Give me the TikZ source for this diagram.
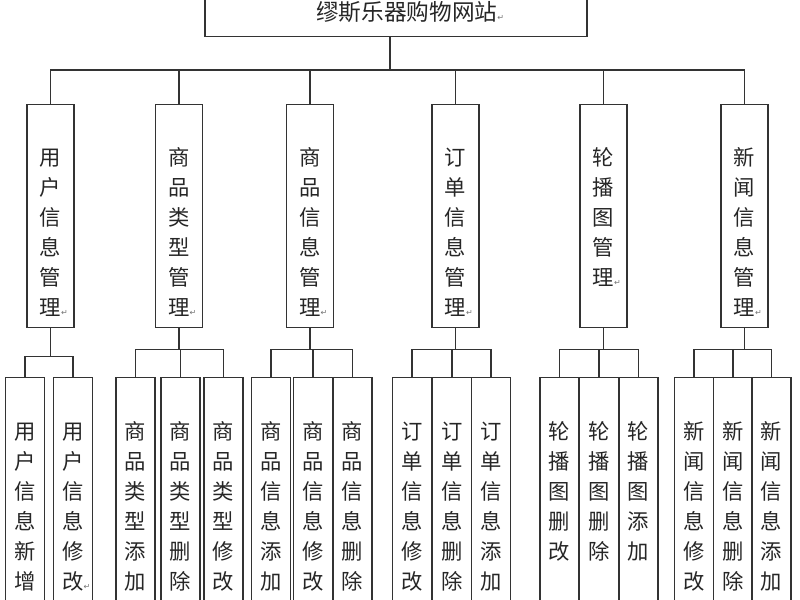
\documentclass[tikz,border=0pt]{standalone}
\usepackage{fontspec}
\setmainfont{Noto Sans CJK SC}
\newfontfamily\markfont{DejaVu Sans}
\newcommand{\parmark}{\rlap{\markfont\fontsize{6pt}{6pt}\selectfont\textcolor{black!55}{↵}}}
\newcommand{\colchars}[1]{\begin{tabular}[t]{@{}c@{}}#1\end{tabular}}

\begin{document}
\begin{tikzpicture}[x=0.75pt, y=-0.75pt,
	sitebox/.style={rectangle, draw=black!80, line width=0.9pt, minimum width=286.5pt, minimum height=36pt, anchor=south, font=\fontsize{17pt}{20pt}\selectfont, text=black!85},
	module/.style={rectangle, draw=black!80, line width=0.9pt, anchor=north, minimum width=35.25pt, inner sep=0pt, text height=45.5pt, text depth=121.8pt, font=\fontsize{16pt}{22.5pt}\selectfont, text=black!85},
	leaf/.style={rectangle, draw=black!80, line width=0.9pt, anchor=north, minimum width=29.25pt, inner sep=0pt, text height=46.2pt, text depth=136pt, font=\fontsize{16pt}{22.5pt}\selectfont, text=black!85},
	links/.style={draw=black!80, line width=0.9pt}]
	
		\useasboundingbox (0,0) rectangle (800,600);
		
		\node[sitebox] at (396,37) (website) {\hspace*{16pt}缪斯乐器购物网站\parmark};
		
		\node[module] at (50.5,104) (usermgmt) {\colchars{用\\户\\信\\息\\管\\理\parmark}};
		\node[module] at (179,104) (typemgmt) {\colchars{商\\品\\类\\型\\管\\理\parmark}};
		\node[module] at (310,104) (goodsmgmt) {\colchars{商\\品\\信\\息\\管\\理\parmark}};
		\node[module] at (455.5,104) (ordermgmt) {\colchars{订\\单\\信\\息\\管\\理\parmark}};
		\node[module] at (603.5,104) (slidemgmt) {\colchars{轮\\播\\图\\管\\理\parmark}};
		\node[module] at (744.5,104) (newsmgmt) {\colchars{新\\闻\\信\\息\\管\\理\parmark}};
		
		\node[leaf] at (25,377) (useradd) {\colchars{用\\户\\信\\息\\新\\增}};
		\node[leaf] at (73,377) (useredit) {\colchars{用\\户\\信\\息\\修\\改\parmark}};
		
		\node[leaf] at (135.5,377) (typeadd) {\colchars{商\\品\\类\\型\\添\\加}};
		\node[leaf] at (180.5,377) (typedelete) {\colchars{商\\品\\类\\型\\删\\除}};
		\node[leaf] at (223.5,377) (typeedit) {\colchars{商\\品\\类\\型\\修\\改}};
		
		\node[leaf] at (271,377) (goodsadd) {\colchars{商\\品\\信\\息\\添\\加}};
		\node[leaf] at (313,377) (goodsedit) {\colchars{商\\品\\信\\息\\修\\改}};
		\node[leaf] at (352.5,377) (goodsdelete) {\colchars{商\\品\\信\\息\\删\\除}};
		
		\node[leaf] at (412,377) (orderedit) {\colchars{订\\单\\信\\息\\修\\改}};
		\node[leaf] at (452,377) (orderdelete) {\colchars{订\\单\\信\\息\\删\\除}};
		\node[leaf] at (491,377) (orderadd) {\colchars{订\\单\\信\\息\\添\\加}};
		
		\node[leaf] at (559.5,377) (slideedit) {\colchars{轮\\播\\图\\删\\改}};
		\node[leaf] at (599,377) (slidedelete) {\colchars{轮\\播\\图\\删\\除}};
		\node[leaf] at (638.5,377) (slideadd) {\colchars{轮\\播\\图\\添\\加}};
		
		\node[leaf] at (694,377) (newsedit) {\colchars{新\\闻\\信\\息\\修\\改}};
		\node[leaf] at (733,377) (newsdelete) {\colchars{新\\闻\\信\\息\\删\\除}};
		\node[leaf] at (771.5,377) (newsadd) {\colchars{新\\闻\\信\\息\\添\\加}};
		
		\draw[links] ([xshift=-4.5pt]website.south) -- ++(0,33) -| (usermgmt.north);
		\draw[links] ([xshift=-4.5pt]website.south) -- ++(0,33) -| (typemgmt.north);
		\draw[links] ([xshift=-4.5pt]website.south) -- ++(0,33) -| (goodsmgmt.north);
		\draw[links] ([xshift=-4.5pt]website.south) -- ++(0,33) -| (ordermgmt.north);
		\draw[links] ([xshift=-4.5pt]website.south) -- ++(0,33) -| (slidemgmt.north);
		\draw[links] ([xshift=-4.5pt]website.south) -- ++(0,33) -| (newsmgmt.north);
		
		\draw[links] (usermgmt.south) -- ++(0,28) -| (useradd.north);
		\draw[links] (usermgmt.south) -- ++(0,28) -| (useredit.north);
		
		\draw[links] (typemgmt.south) -- ++(0,21) -| (typeadd.north);
		\draw[links] (typemgmt.south) -- ++(0,21) -| (typedelete.north);
		\draw[links] (typemgmt.south) -- ++(0,21) -| (typeedit.north);
		
		\draw[links] (goodsmgmt.south) -- ++(0,21) -| (goodsadd.north);
		\draw[links] (goodsmgmt.south) -- ++(0,21) -| (goodsedit.north);
		\draw[links] (goodsmgmt.south) -- ++(0,21) -| (goodsdelete.north);
		
		\draw[links] (ordermgmt.south) -- ++(0,21) -| (orderedit.north);
		\draw[links] (ordermgmt.south) -- ++(0,21) -| (orderdelete.north);
		\draw[links] (ordermgmt.south) -- ++(0,21) -| (orderadd.north);
		
		\draw[links] (slidemgmt.south) -- ++(0,21) -| (slideedit.north);
		\draw[links] (slidemgmt.south) -- ++(0,21) -| (slidedelete.north);
		\draw[links] (slidemgmt.south) -- ++(0,21) -| (slideadd.north);
		
		\draw[links] (newsmgmt.south) -- ++(0,21) -| (newsedit.north);
		\draw[links] (newsmgmt.south) -- ++(0,21) -| (newsdelete.north);
		\draw[links] (newsmgmt.south) -- ++(0,21) -| (newsadd.north);
	\end{tikzpicture}
\end{document}
